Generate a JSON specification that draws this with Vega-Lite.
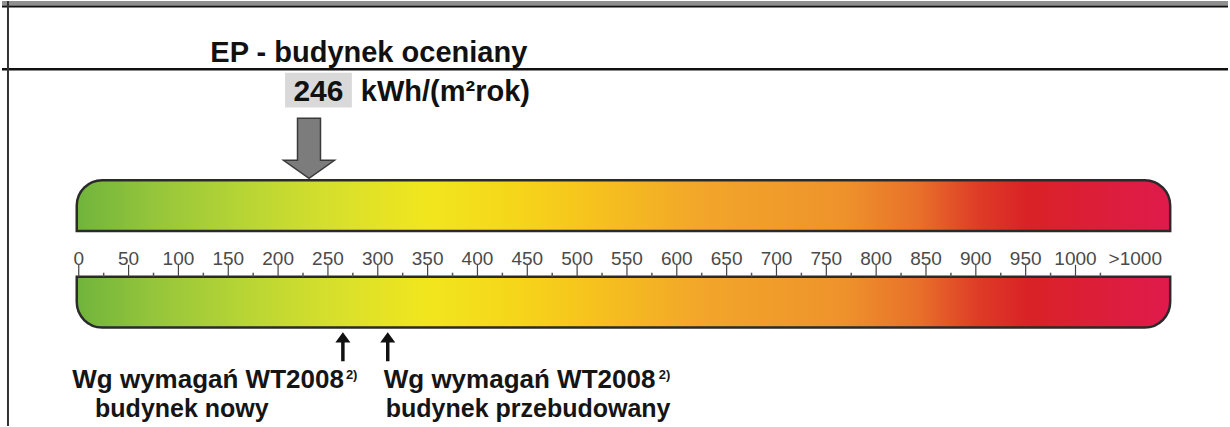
{
  "$schema": "https://vega.github.io/schema/vega-lite/v6.json",
  "width": 1230,
  "height": 427,
  "autosize": {"type": "fit", "contains": "padding"},
  "padding": 0,
  "background": "#ffffff",
  "view": {"stroke": null},
  "config": {"text": {"font": "Liberation Sans"}},
  "data": {"values": [{}]},
  "datasets": {
    "scale": [
      {"v": 0, "label": "0"}, {"v": 50, "label": "50"}, {"v": 100, "label": "100"}, {"v": 150, "label": "150"},
      {"v": 200, "label": "200"}, {"v": 250, "label": "250"}, {"v": 300, "label": "300"}, {"v": 350, "label": "350"},
      {"v": 400, "label": "400"}, {"v": 450, "label": "450"}, {"v": 500, "label": "500"}, {"v": 550, "label": "550"},
      {"v": 600, "label": "600"}, {"v": 650, "label": "650"}, {"v": 700, "label": "700"}, {"v": 750, "label": "750"},
      {"v": 800, "label": "800"}, {"v": 850, "label": "850"}, {"v": 900, "label": "900"}, {"v": 950, "label": "950"},
      {"v": 1000, "label": "1000"}
    ],
    "minor": [
      {"v": 25}, {"v": 75}, {"v": 125}, {"v": 175}, {"v": 225}, {"v": 275}, {"v": 325}, {"v": 375},
      {"v": 425}, {"v": 475}, {"v": 525}, {"v": 575}, {"v": 625}, {"v": 675}, {"v": 725}, {"v": 775},
      {"v": 825}, {"v": 875}, {"v": 925}, {"v": 975}, {"v": 1025}
    ],
    "over": [{"v": 1060, "label": ">1000"}],
    "ep": [{"name": "EP - budynek oceniany", "value": 246, "unit": "kWh/(m²rok)", "v": 231}],
    "req": [
      {"id": "nowy", "v": 265, "line1": "Wg wymagań WT2008", "line2": "budynek nowy", "note": "2)"},
      {"id": "przebudowany", "v": 310, "line1": "Wg wymagań WT2008", "line2": "budynek przebudowany", "note": "2)"}
    ]
  },
  "layer": [
    {
      "mark": {"type": "rect", "fill": "#8f8f8f"},
      "encoding": {
        "x": {"datum": -77, "type": "quantitative", "scale": {"domain": [-77, 1153], "nice": false, "zero": false}, "axis": null},
        "x2": {"datum": 1153},
        "y": {"datum": 0, "type": "quantitative", "scale": {"domain": [0, 427], "reverse": true, "nice": false, "zero": false}, "axis": null},
        "y2": {"datum": 4.5}
      }
    },
    {
      "mark": {"type": "rule", "color": "#111111", "strokeWidth": 2},
      "encoding": {
        "x": {"datum": -77, "type": "quantitative"},
        "x2": {"datum": 1153},
        "y": {"datum": 5.5, "type": "quantitative"}
      }
    },
    {
      "mark": {"type": "rule", "color": "#111111", "strokeWidth": 2.5},
      "encoding": {
        "x": {"datum": -77, "type": "quantitative"},
        "x2": {"datum": 1153},
        "y": {"datum": 68.5, "type": "quantitative"}
      }
    },
    {
      "mark": {"type": "rule", "color": "#333333", "strokeWidth": 2},
      "encoding": {
        "x": {"datum": -71, "type": "quantitative"},
        "y": {"datum": 0, "type": "quantitative"},
        "y2": {"datum": 427}
      }
    },
    {
      "data": {"name": "ep"},
      "mark": {"type": "text", "align": "left", "baseline": "alphabetic", "fontSize": 29, "fontWeight": "bold", "color": "#111111"},
      "encoding": {
        "x": {"datum": 132, "type": "quantitative"},
        "y": {"datum": 61, "type": "quantitative"},
        "text": {"field": "name"}
      }
    },
    {
      "data": {"name": "ep"},
      "mark": {"type": "rect", "fill": "#d9d9d9"},
      "encoding": {
        "x": {"datum": 207, "type": "quantitative"},
        "x2": {"datum": 274},
        "y": {"datum": 72, "type": "quantitative"},
        "y2": {"datum": 107}
      }
    },
    {
      "data": {"name": "ep"},
      "mark": {"type": "text", "align": "center", "baseline": "alphabetic", "fontSize": 30, "fontWeight": "bold", "color": "#111111"},
      "encoding": {
        "x": {"datum": 240.5, "type": "quantitative"},
        "y": {"datum": 100, "type": "quantitative"},
        "text": {"field": "value"}
      }
    },
    {
      "data": {"name": "ep"},
      "mark": {"type": "text", "align": "left", "baseline": "alphabetic", "fontSize": 29, "fontWeight": "bold", "color": "#111111"},
      "encoding": {
        "x": {"datum": 283, "type": "quantitative"},
        "y": {"datum": 100, "type": "quantitative"},
        "text": {"field": "unit"}
      }
    },
    {
      "mark": {
        "type": "rect",
        "stroke": "#2a2a2a",
        "strokeWidth": 2.5,
        "cornerRadiusTopLeft": 27,
        "cornerRadiusTopRight": 27,
        "fill": {
          "gradient": "linear", "x1": 0, "y1": 0, "x2": 1, "y2": 0,
          "stops": [
            {"offset": 0, "color": "#70b43c"},
            {"offset": 0.07, "color": "#95c53b"},
            {"offset": 0.16, "color": "#bad634"},
            {"offset": 0.24, "color": "#d9e02b"},
            {"offset": 0.32, "color": "#f1e61e"},
            {"offset": 0.4, "color": "#f6d61a"},
            {"offset": 0.47, "color": "#f6c31d"},
            {"offset": 0.57, "color": "#f2a62a"},
            {"offset": 0.7, "color": "#ee932b"},
            {"offset": 0.77, "color": "#e8702a"},
            {"offset": 0.825, "color": "#de3b27"},
            {"offset": 0.87, "color": "#d92226"},
            {"offset": 1, "color": "#e01a4c"}
          ]
        }
      },
      "encoding": {
        "x": {"datum": -2, "type": "quantitative"},
        "x2": {"datum": 1095},
        "y": {"datum": 180, "type": "quantitative"},
        "y2": {"datum": 231}
      }
    },
    {
      "mark": {
        "type": "rect",
        "stroke": "#2a2a2a",
        "strokeWidth": 2.5,
        "cornerRadiusBottomLeft": 27,
        "cornerRadiusBottomRight": 27,
        "fill": {
          "gradient": "linear", "x1": 0, "y1": 0, "x2": 1, "y2": 0,
          "stops": [
            {"offset": 0, "color": "#70b43c"},
            {"offset": 0.07, "color": "#95c53b"},
            {"offset": 0.16, "color": "#bad634"},
            {"offset": 0.24, "color": "#d9e02b"},
            {"offset": 0.32, "color": "#f1e61e"},
            {"offset": 0.4, "color": "#f6d61a"},
            {"offset": 0.47, "color": "#f6c31d"},
            {"offset": 0.57, "color": "#f2a62a"},
            {"offset": 0.7, "color": "#ee932b"},
            {"offset": 0.77, "color": "#e8702a"},
            {"offset": 0.825, "color": "#de3b27"},
            {"offset": 0.87, "color": "#d92226"},
            {"offset": 1, "color": "#e01a4c"}
          ]
        }
      },
      "encoding": {
        "x": {"datum": -2, "type": "quantitative"},
        "x2": {"datum": 1095},
        "y": {"datum": 277, "type": "quantitative"},
        "y2": {"datum": 328}
      }
    },
    {
      "data": {"name": "ep"},
      "mark": {
        "type": "point",
        "shape": "M -0.383 -1 L 0.383 -1 L 0.383 0.4 L 0.85 0.4 L 0 1 L -0.85 0.4 L -0.383 0.4 Z",
        "size": 3600,
        "filled": true,
        "fill": "#7c7c7c",
        "fillOpacity": 1,
        "stroke": "#3a3a3a",
        "strokeWidth": 1.5,
        "opacity": 1
      },
      "encoding": {
        "x": {"field": "v", "type": "quantitative"},
        "y": {"datum": 148, "type": "quantitative"}
      }
    },
    {
      "data": {"name": "scale"},
      "mark": {"type": "rule", "color": "#444444", "strokeWidth": 1.2},
      "encoding": {
        "x": {"field": "v", "type": "quantitative"},
        "y": {"datum": 265, "type": "quantitative"},
        "y2": {"datum": 277}
      }
    },
    {
      "data": {"name": "minor"},
      "mark": {"type": "rule", "color": "#555555", "strokeWidth": 1.5},
      "encoding": {
        "x": {"field": "v", "type": "quantitative"},
        "y": {"datum": 273, "type": "quantitative"},
        "y2": {"datum": 277}
      }
    },
    {
      "data": {"name": "scale"},
      "mark": {"type": "text", "align": "center", "baseline": "middle", "fontSize": 19, "color": "#4a4a4a"},
      "encoding": {
        "x": {"field": "v", "type": "quantitative"},
        "y": {"datum": 259, "type": "quantitative"},
        "text": {"field": "label"}
      }
    },
    {
      "data": {"name": "over"},
      "mark": {"type": "text", "align": "center", "baseline": "middle", "fontSize": 19, "color": "#4a4a4a"},
      "encoding": {
        "x": {"field": "v", "type": "quantitative"},
        "y": {"datum": 259, "type": "quantitative"},
        "text": {"field": "label"}
      }
    },
    {
      "data": {"name": "req"},
      "mark": {
        "type": "point",
        "shape": "M 0 -1 L 0.52 -0.3 L 0.12 -0.3 L 0.12 1 L -0.12 1 L -0.12 -0.3 L -0.52 -0.3 Z",
        "size": 841,
        "filled": true,
        "fill": "#111111",
        "fillOpacity": 1,
        "strokeWidth": 0,
        "opacity": 1
      },
      "encoding": {
        "x": {"field": "v", "type": "quantitative"},
        "y": {"datum": 347.5, "type": "quantitative"}
      }
    },
    {
      "data": {"name": "req"},
      "transform": [{"filter": "datum.id == 'nowy'"}],
      "mark": {"type": "text", "align": "right", "baseline": "alphabetic", "fontSize": 26, "fontWeight": "bold", "color": "#151515", "dx": 1},
      "encoding": {
        "x": {"field": "v", "type": "quantitative"},
        "y": {"datum": 389, "type": "quantitative"},
        "text": {"field": "line1"}
      }
    },
    {
      "data": {"name": "req"},
      "transform": [{"filter": "datum.id == 'nowy'"}],
      "mark": {"type": "text", "align": "center", "baseline": "alphabetic", "fontSize": 25, "fontWeight": "bold", "color": "#151515", "dx": -161},
      "encoding": {
        "x": {"field": "v", "type": "quantitative"},
        "y": {"datum": 418, "type": "quantitative"},
        "text": {"field": "line2"}
      }
    },
    {
      "data": {"name": "req"},
      "transform": [{"filter": "datum.id == 'nowy'"}],
      "mark": {"type": "text", "align": "left", "baseline": "alphabetic", "fontSize": 13, "fontWeight": "bold", "color": "#151515", "dx": 3},
      "encoding": {
        "x": {"field": "v", "type": "quantitative"},
        "y": {"datum": 380, "type": "quantitative"},
        "text": {"field": "note"}
      }
    },
    {
      "data": {"name": "req"},
      "transform": [{"filter": "datum.id == 'przebudowany'"}],
      "mark": {"type": "text", "align": "left", "baseline": "alphabetic", "fontSize": 26, "fontWeight": "bold", "color": "#151515", "dx": -4},
      "encoding": {
        "x": {"field": "v", "type": "quantitative"},
        "y": {"datum": 389, "type": "quantitative"},
        "text": {"field": "line1"}
      }
    },
    {
      "data": {"name": "req"},
      "transform": [{"filter": "datum.id == 'przebudowany'"}],
      "mark": {"type": "text", "align": "left", "baseline": "alphabetic", "fontSize": 25, "fontWeight": "bold", "color": "#151515", "dx": -2},
      "encoding": {
        "x": {"field": "v", "type": "quantitative"},
        "y": {"datum": 418, "type": "quantitative"},
        "text": {"field": "line2"}
      }
    },
    {
      "data": {"name": "req"},
      "transform": [{"filter": "datum.id == 'przebudowany'"}],
      "mark": {"type": "text", "align": "left", "baseline": "alphabetic", "fontSize": 13, "fontWeight": "bold", "color": "#151515", "dx": 271},
      "encoding": {
        "x": {"field": "v", "type": "quantitative"},
        "y": {"datum": 380, "type": "quantitative"},
        "text": {"field": "note"}
      }
    }
  ]
}
